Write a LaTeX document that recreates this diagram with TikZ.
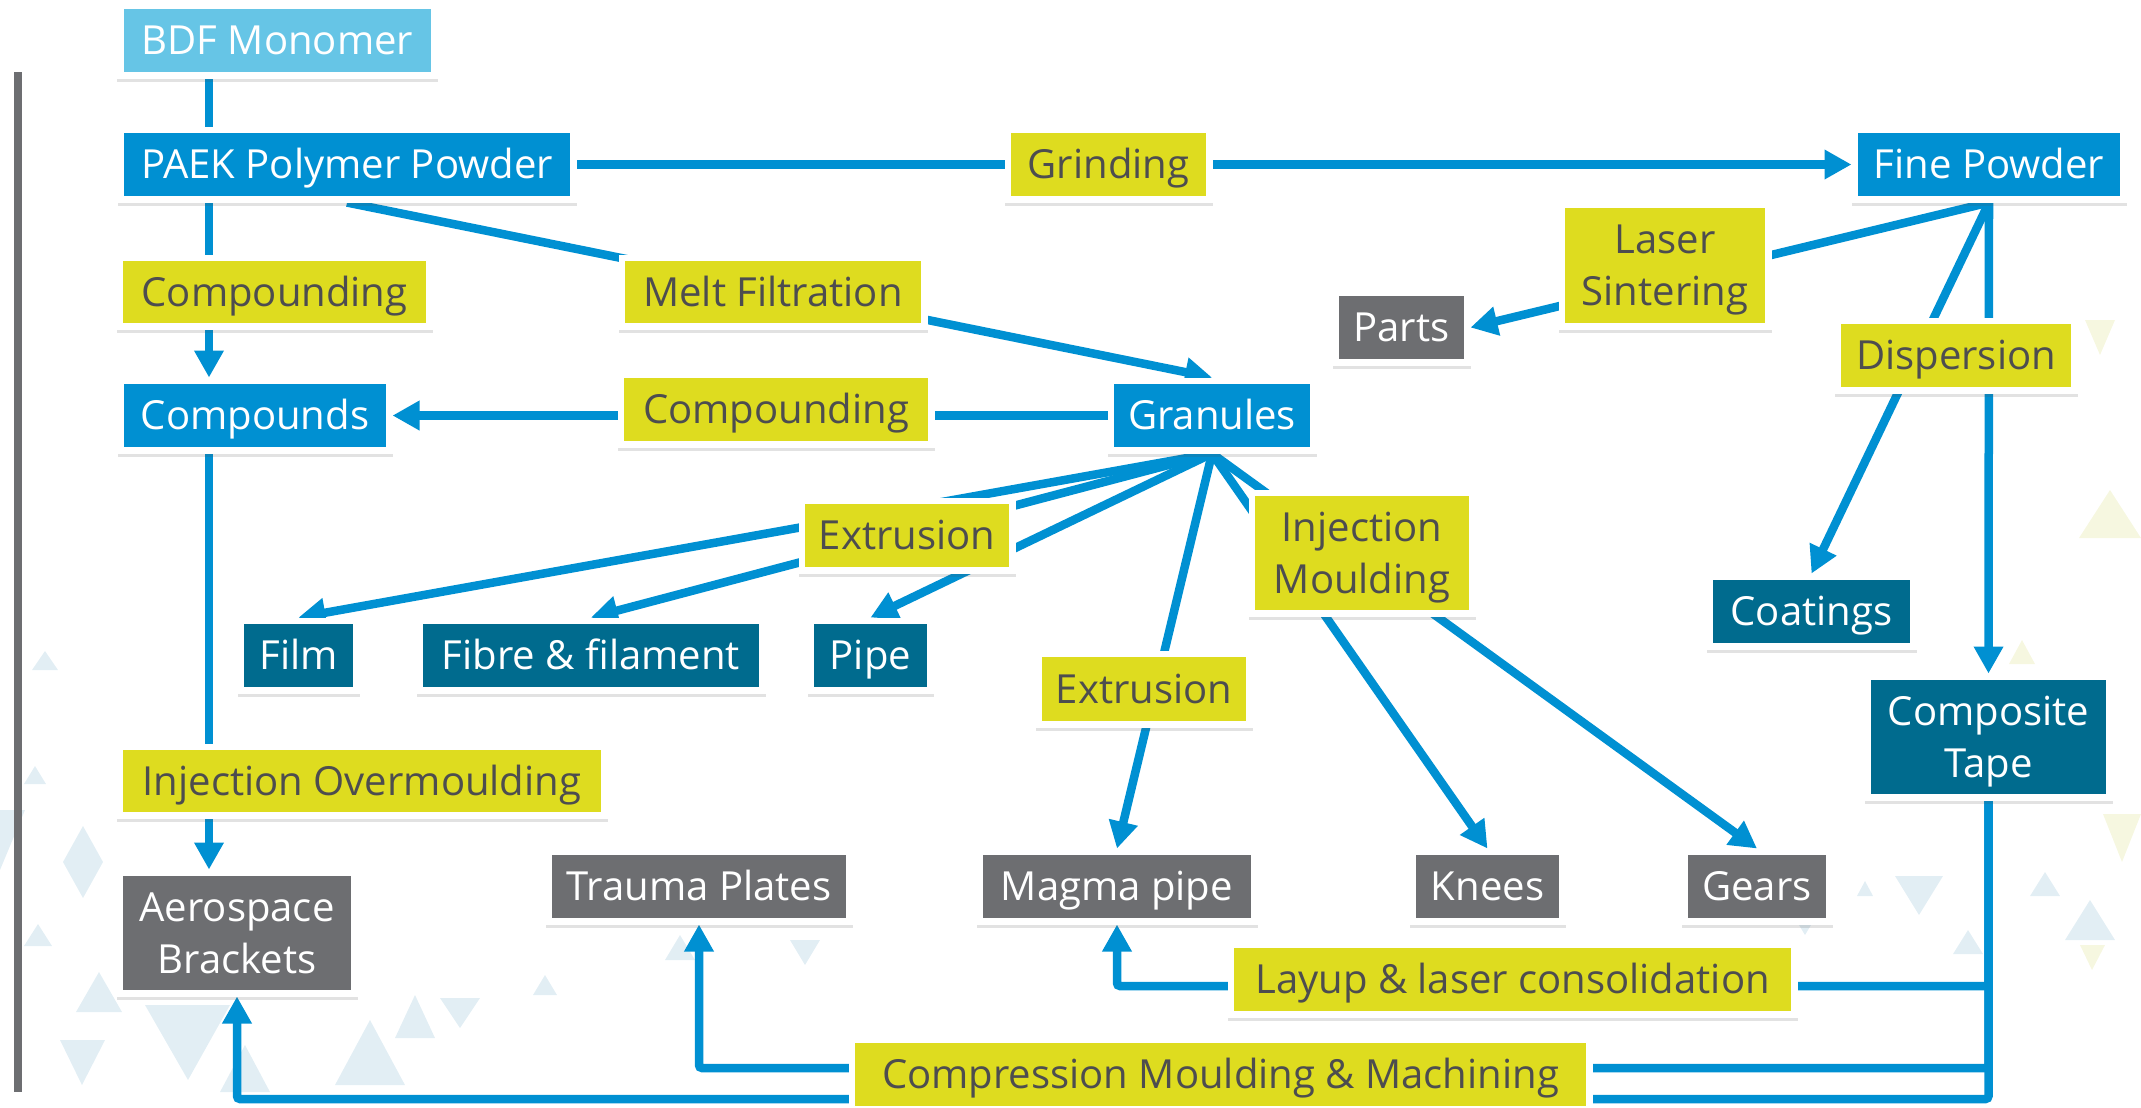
\documentclass[tikz,border=0pt]{standalone}
\usepackage{fontspec}
\setmainfont{Open Sans}
\usetikzlibrary{arrows.meta,shadows}

\definecolor{mainblue}{HTML}{0090D2}
\definecolor{paleblue}{HTML}{66C5E6}
\definecolor{tealbox}{HTML}{006B8E}
\definecolor{greybox}{HTML}{6D6E71}
\definecolor{labelfill}{HTML}{DEDC1F}
\definecolor{labeltext}{HTML}{4D4D4F}
\definecolor{decoblue}{HTML}{E2EEF4}
\definecolor{decoyellow}{HTML}{F6F7E0}

\newcommand\boxfont{\fontsize{11.4}{14.8}\selectfont}

\pgfdeclarelayer{deco}
\pgfdeclarelayer{wires}
\pgfsetlayers{deco,wires,main}

\tikzset{
  wh/.style 2 args={minimum width=#1cm+0.13cm, minimum height=#2cm+0.13cm},
  framed/.style={rectangle, fill=white, inner sep=0pt, outer sep=0pt,
    align=center, font=\boxfont, text height=8.1pt, text depth=0pt,
    drop shadow={shadow xshift=0pt, shadow yshift=-0.035cm, opacity=0.16, fill=black!70},
    path picture={\fill[#1]
      ([shift={(0.065,0.065)}]path picture bounding box.south west) rectangle
      ([shift={(-0.065,-0.065)}]path picture bounding box.north east);}},
  twolines/.style={text height=22.9pt, text depth=0pt},
  prod/.style={framed=#1, text=white},
  proc/.style={framed=labelfill, text=labeltext},
  wire/.style={draw=mainblue, line width=0.085cm},
  flow/.style={wire, -{Triangle[length=0.27cm, width=0.28cm]}},
  elbow/.style={flow, rounded corners=0.03cm},
  tri/.style={fill=decoblue},
  triy/.style={fill=decoyellow}
}

\begin{document}
\begin{tikzpicture}
\useasboundingbox (0,0) rectangle (21.41,-11.07);

% faint triangle pattern behind the chart
\begin{pgfonlayer}{deco}
  \fill[tri] (0.45,-6.51) -- (0.58,-6.70) -- (0.32,-6.70) -- cycle;
  \fill[tri] (0.35,-7.66) -- (0.46,-7.84) -- (0.24,-7.84) -- cycle;
  \fill[tri] (0.83,-8.26) -- (1.03,-8.62) -- (0.83,-8.98) -- (0.63,-8.62) -- cycle;
  \fill[tri] (0.00,-8.10) -- (0.25,-8.10) -- (0.00,-8.70) -- cycle;
  \fill[tri] (0.38,-9.24) -- (0.52,-9.46) -- (0.24,-9.46) -- cycle;
  \fill[tri] (0.99,-9.72) -- (1.22,-10.12) -- (0.76,-10.12) -- cycle;
  \fill[tri] (1.45,-10.05) -- (2.30,-10.05) -- (1.88,-10.80) -- cycle;
  \fill[tri] (3.70,-10.20) -- (4.05,-10.85) -- (3.35,-10.85) -- cycle;
  \fill[tri] (4.15,-9.95) -- (4.35,-10.38) -- (3.95,-10.38) -- cycle;
  \fill[tri] (4.40,-9.98) -- (4.80,-9.98) -- (4.60,-10.28) -- cycle;
  \fill[tri] (3.20,-9.30) -- (3.32,-9.50) -- (3.08,-9.50) -- cycle;
  \fill[tri] (5.45,-9.75) -- (5.57,-9.95) -- (5.33,-9.95) -- cycle;
  \fill[tri] (0.60,-10.40) -- (1.05,-10.40) -- (0.82,-10.85) -- cycle;
  \fill[tri] (2.45,-10.45) -- (2.70,-10.92) -- (2.20,-10.92) -- cycle;
  \fill[tri] (6.80,-9.35) -- (6.95,-9.60) -- (6.65,-9.60) -- cycle;
  \fill[tri] (7.90,-9.40) -- (8.20,-9.40) -- (8.05,-9.65) -- cycle;
  \fill[tri] (18.95,-8.76) -- (19.43,-8.76) -- (19.19,-9.15) -- cycle;
  \fill[tri] (20.45,-8.72) -- (20.60,-8.96) -- (20.30,-8.96) -- cycle;
  \fill[tri] (19.68,-9.30) -- (19.83,-9.54) -- (19.53,-9.54) -- cycle;
  \fill[tri] (18.65,-8.81) -- (18.73,-8.96) -- (18.57,-8.96) -- cycle;
  \fill[tri] (20.90,-9.00) -- (21.15,-9.40) -- (20.65,-9.40) -- cycle;
  \fill[tri] (17.90,-9.10) -- (18.20,-9.10) -- (18.05,-9.35) -- cycle;
  \fill[triy] (21.10,-4.90) -- (21.41,-5.38) -- (20.79,-5.38) -- cycle;
  \fill[triy] (20.22,-6.40) -- (20.35,-6.64) -- (20.09,-6.64) -- cycle;
  \fill[triy] (21.03,-8.14) -- (21.41,-8.14) -- (21.22,-8.62) -- cycle;
  \fill[triy] (20.85,-3.20) -- (21.15,-3.20) -- (21.00,-3.55) -- cycle;
  \fill[triy] (20.60,-7.30) -- (20.85,-7.75) -- (20.35,-7.75) -- cycle;
  \fill[triy] (20.80,-9.45) -- (21.05,-9.45) -- (20.92,-9.70) -- cycle;
\end{pgfonlayer}

% side rule
\fill[greybox] (0.14,-0.72) rectangle (0.22,-10.92);

% products and intermediates
\node[prod=paleblue, wh={3.07}{0.63}] (bdf) at (2.775,-0.405) {BDF Monomer};
\node[prod=mainblue, wh={4.46}{0.63}] (paek) at (3.47,-1.645) {PAEK Polymer Powder};
\node[prod=mainblue, wh={2.62}{0.63}] (cpds) at (2.55,-4.155) {Compounds};
\node[prod=mainblue, wh={1.96}{0.63}] (gran) at (12.12,-4.155) {Granules};
\node[prod=mainblue, wh={2.62}{0.63}] (fine) at (19.89,-1.645) {Fine Powder};
\node[prod=greybox, wh={1.25}{0.63}] (parts) at (14.015,-3.275) {Parts};
\node[prod=tealbox, wh={1.09}{0.63}] (film) at (2.985,-6.555) {Film};
\node[prod=tealbox, wh={3.36}{0.63}] (fibre) at (5.91,-6.555) {Fibre \& filament};
\node[prod=tealbox, wh={1.13}{0.63}] (pipe) at (8.705,-6.555) {Pipe};
\node[prod=tealbox, wh={1.97}{0.63}] (coat) at (18.115,-6.115) {Coatings};
\node[prod=tealbox, twolines, wh={2.35}{1.14}] (tape) at (19.885,-7.37) {Composite\\Tape};
\node[prod=greybox, twolines, wh={2.28}{1.14}] (aero) at (2.37,-9.33) {Aerospace\\Brackets};
\node[prod=greybox, wh={2.94}{0.63}] (trauma) at (6.99,-8.865) {Trauma Plates};
\node[prod=greybox, wh={2.68}{0.63}] (magma) at (11.17,-8.865) {Magma pipe};
\node[prod=greybox, wh={1.43}{0.63}] (knees) at (14.875,-8.865) {Knees};
\node[prod=greybox, wh={1.38}{0.63}] (gears) at (17.57,-8.865) {Gears};

% process labels
\node[proc, wh={3.03}{0.62}] (cmpdA) at (2.745,-2.92) {Compounding};
\node[proc, wh={2.96}{0.62}] (melt) at (7.73,-2.92) {Melt Filtration};
\node[proc, wh={3.04}{0.63}] (cmpdB) at (7.76,-4.095) {Compounding};
\node[proc, wh={1.95}{0.63}] (grind) at (11.085,-1.645) {Grinding};
\node[proc, twolines, wh={2.00}{1.15}] (laser) at (16.65,-2.655) {Laser\\Sintering};
\node[proc, wh={2.30}{0.63}] (disp) at (19.56,-3.555) {Dispersion};
\node[proc, wh={2.04}{0.63}] (extA) at (9.07,-5.355) {Extrusion};
\node[proc, twolines, wh={2.14}{1.14}] (injm) at (13.62,-5.53) {Injection\\Moulding};
\node[proc, wh={2.04}{0.64}] (extB) at (11.44,-6.89) {Extrusion};
\node[proc, wh={4.78}{0.62}] (injo) at (3.62,-7.81) {Injection Overmoulding};
\node[proc, wh={5.57}{0.63}] (layup) at (15.125,-9.795) {Layup \& laser consolidation};
\node[proc, wh={7.31}{0.63}] (compr) at (12.205,-10.745) {Compression Moulding \& Machining};

% guide coordinates for the straight runs and the bottom return lines
\coordinate (spine) at (2.09,0);
\coordinate (yLay) at (0,-9.86);
\coordinate (yTrauma) at (0,-10.68);
\coordinate (yAero) at (0,-10.99);

\begin{pgfonlayer}{wires}
  \draw[wire] (bdf.south -| spine) -- (paek.north -| spine);
  \draw[flow] (paek.south -| spine) -- (cpds.north -| spine);
  \draw[flow] (paek.east) -- (fine.west);
  \draw[flow] (paek.south) -- (gran.north);
  \draw[flow] (gran.west) -- (cpds.east);
  \draw[flow] (cpds.south -| spine) -- (aero.north -| spine);

  \draw[flow] (gran.south) -- (film.north);
  \draw[flow] (gran.south) -- (fibre.north);
  \draw[flow] (gran.south) -- (pipe.north);
  \draw[flow] (gran.south) -- (magma.north);
  \draw[flow] (gran.south) -- (knees.north);
  \draw[flow] (gran.south) -- (gears.north);

  \draw[flow] (fine.south) -- (parts.east);
  \draw[flow] (fine.south) -- (coat.north);
  \draw[flow] (fine.south) -- (tape.north);

  \draw[elbow] (tape.south) -- (tape.south |- yLay) -| (magma.south);
  \draw[elbow] (tape.south) -- (tape.south |- yTrauma) -| (trauma.south);
  \draw[elbow] (tape.south) -- (tape.south |- yAero) -| (aero.south);
\end{pgfonlayer}
\end{tikzpicture}
\end{document}
